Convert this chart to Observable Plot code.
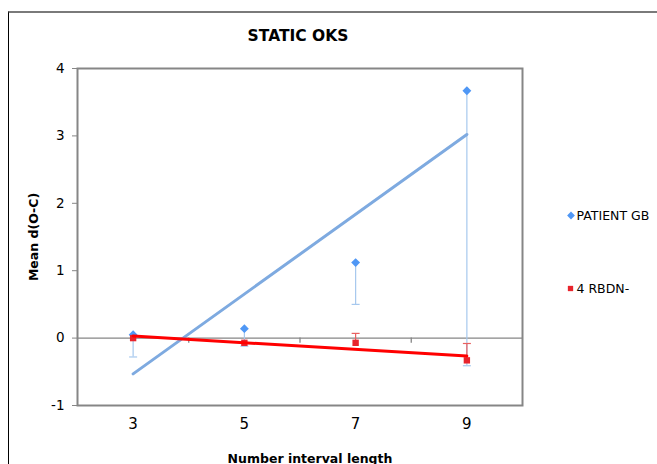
<!DOCTYPE html>
<html>
<head>
<meta charset="utf-8">
<script src="https://cdn.jsdelivr.net/npm/d3@7"></script>
<script src="https://cdn.jsdelivr.net/npm/@observablehq/plot@0.6"></script>
<style>
  html, body { margin: 0; padding: 0; background: #fff; }
  #wrap { position: relative; width: 657px; height: 464px; overflow: hidden; }
  #border { position: absolute; left: 8px; top: 11px; width: 700px; height: 500px;
            border-left: 1px solid #000; border-top: 2px solid #7a7a7a; box-sizing: border-box; }
  #chart { position: absolute; left: 0; top: 0; }
</style>
</head>
<body>
<div id="wrap"><div id="border"></div><div id="chart"></div></div>
<script>
const xValues = [3, 5, 7, 9];
const xTickLabels = [3, 5, 7, 9];
const xMinorTicks = [4, 6, 8];
const yTicks = [-1, 0, 1, 2, 3, 4];

const patientName = "PATIENT GB";
const patientMean = [0.05, 0.14, 1.12, 3.67];
const patientErrMinus = [0.33, 0.26, 0.62, 4.08];

const controlName = "4 RBDN-";
const controlMean = [0.00, -0.07, -0.07, -0.33];
const controlErrPlus = [0.00, 0.00, 0.14, 0.25];

const patient = xValues.map((x, i) => ({x, y: patientMean[i], lo: patientMean[i] - patientErrMinus[i]}));
const control = xValues.map((x, i) => ({x, y: controlMean[i], hi: controlMean[i] + controlErrPlus[i]}));

const blue = "#4f97f5";
const blueTrend = "#7eaae0";
const blueErr = "#a6c8ee";
const red = "#e8242c";
const redTrend = "#ff0000";
const redErr = "#e86060";

const hline = {draw(ctx, size) { const w = Math.sqrt(size / Math.PI); ctx.moveTo(-w, 0); ctx.lineTo(w, 0); }};

const font = "DejaVu Sans, Verdana, sans-serif";

const chart = Plot.plot({
  width: 657,
  height: 464,
  marginLeft: 77,
  marginRight: 135,
  marginTop: 68,
  marginBottom: 59,
  style: {fontFamily: font, fontSize: "13px", color: "#000", background: "transparent"},
  x: {domain: [2, 10]},
  y: {domain: [-1, 4]},
  marks: [
    Plot.ruleY([0], {stroke: "#868686", strokeWidth: 1.3}),
    Plot.ruleX(xMinorTicks, {y1: 0, y2: -0.075, stroke: "#868686", strokeWidth: 1.3}),
    Plot.axisY({ticks: yTicks, tickSize: 5, tickPadding: 8, stroke: "#868686", fill: "#000", fontSize: 13.5, label: null, tickFormat: d => d < 0 ? "-" + Math.abs(d) : String(d)}),
    Plot.axisX({ticks: xTickLabels, tickSize: 0, tickPadding: 13, fill: "#000", fontSize: 15, label: null}),
    // error bars
    Plot.ruleX(patient, {x: "x", y1: "y", y2: "lo", stroke: blueErr, strokeWidth: 1.2}),
    Plot.dot(patient, {x: "x", y: "lo", symbol: hline, r: 4, stroke: blueErr, strokeWidth: 1.2}),
    Plot.ruleX(control.filter(d => d.hi > d.y), {x: "x", y1: "y", y2: "hi", stroke: redErr, strokeWidth: 1.2}),
    Plot.dot(control.filter(d => d.hi > d.y), {x: "x", y: "hi", symbol: hline, r: 4, stroke: redErr, strokeWidth: 1.2}),
    // markers
    Plot.dot(patient, {x: "x", y: "y", symbol: "diamond2", r: 4, fill: blue}),
    Plot.dot(control, {x: "x", y: "y", symbol: "square", r: 3.6, fill: red}),
    // trendlines
    Plot.linearRegressionY(patient, {x: "x", y: "y", stroke: blueTrend, strokeWidth: 3, ci: 0}),
    Plot.linearRegressionY(control, {x: "x", y: "y", stroke: redTrend, strokeWidth: 3, ci: 0}),
    Plot.frame({stroke: "#868686", strokeWidth: 2}),
    // title & axis labels
    Plot.text(["STATIC OKS"], {frameAnchor: "top", lineAnchor: "middle", dx: -2, dy: -32, fontSize: 15.5, fontWeight: "bold"}),
    Plot.text(["Number interval length"], {frameAnchor: "bottom", lineAnchor: "middle", dx: 10, dy: 53, fontSize: 12.5, fontWeight: "bold"}),
    Plot.text(["Mean d(O-C)"], {frameAnchor: "left", lineAnchor: "middle", textAnchor: "middle", dx: -44, rotate: -90, fontSize: 12.5, fontWeight: "bold"}),
    // legend
    Plot.dot([patientName], {frameAnchor: "top-right", dx: 48.5, dy: 147, symbol: "diamond2", r: 3.5, fill: blue}),
    Plot.text([patientName], {frameAnchor: "top-right", lineAnchor: "middle", dx: 54, dy: 147, textAnchor: "start", fontSize: 12.5}),
    Plot.dot([controlName], {frameAnchor: "top-right", dx: 48, dy: 220, symbol: "square", r: 3, fill: red}),
    Plot.text([controlName], {frameAnchor: "top-right", lineAnchor: "middle", dx: 54, dy: 220, textAnchor: "start", fontSize: 12.5})
  ]
});
document.getElementById("chart").appendChild(chart);
</script>
</body>
</html>
